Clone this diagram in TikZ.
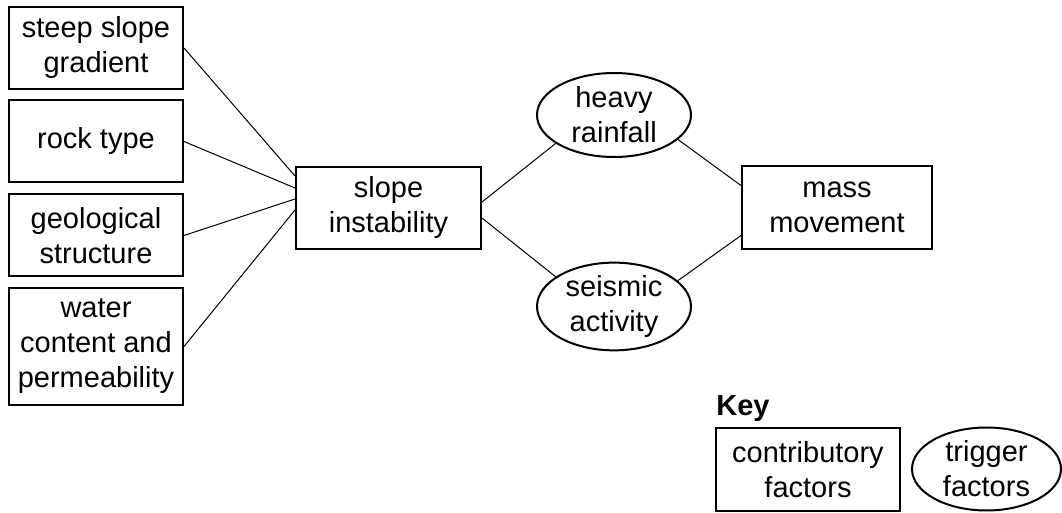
\documentclass[tikz,border=0pt]{standalone}
\usepackage{fontspec}
\setmainfont{Liberation Sans}
\usetikzlibrary{shapes.geometric}

\begin{document}
\begin{tikzpicture}[x=0.5pt,y=-0.5pt]
\tikzstyle{every node}+=[inner sep=0pt,align=center,font=\fontsize{14.5}{17.5}\selectfont]
\tikzstyle{cbox}=[draw=black,line width=1pt,rectangle,minimum width=87pt,minimum height=41pt]
\tikzstyle{tell}=[draw=black,line width=1pt,ellipse,minimum width=77pt,minimum height=42pt]
\tikzstyle{link}=[black,line width=0.5pt]
\useasboundingbox (0,0) rectangle (1062,513);
\node [cbox] (steep) at (96,48) {steep slope\\gradient};
\node [cbox] (rock) at (96,141.5) {rock type};
\node [cbox] (geo) at (96,235.5) {geological\\structure};
\node [cbox,minimum height=58.5pt] (water) at (96,346.5) {water\\content and\\permeability};
\node [cbox,minimum width=92.5pt] (slope) at (388.5,208) {slope\\instability};
\node [tell] (heavy) at (614,115) {heavy\\rainfall};
\node [tell,minimum height=41.5pt] (seismic) at (614,306.5) {seismic\\activity};
\node [cbox,minimum width=95pt,minimum height=41.5pt] (mass) at (837,207.5) {mass\\movement};
\node [anchor=base west,font=\fontsize{14.5}{17.5}\selectfont\bfseries] (key) at (716,416) {Key};
\node [cbox,minimum width=92pt,minimum height=41.5pt] (contrib) at (808,469.5) {contributory\\factors};
\node [tell,minimum width=74.5pt,minimum height=41.5pt] (trigger) at (986.5,469) {trigger\\factors};
\draw [link] (steep.east) -- ([yshift=16pt]slope.west);
\draw [link] (rock.east) -- ([yshift=10pt]slope.west);
\draw [link] (geo.east) -- ([yshift=4.5pt]slope.west);
\draw [link] (water.east) -- ([yshift=-1pt]slope.west);
\draw [link] ([yshift=3pt]slope.east) -- (heavy.206);
\draw [link] ([yshift=-5pt]slope.east) -- (seismic.153);
\draw [link] (heavy.339) -- ([yshift=11pt]mass.west);
\draw [link] (seismic.22) -- ([yshift=-14pt]mass.west);
\end{tikzpicture}
\end{document}
